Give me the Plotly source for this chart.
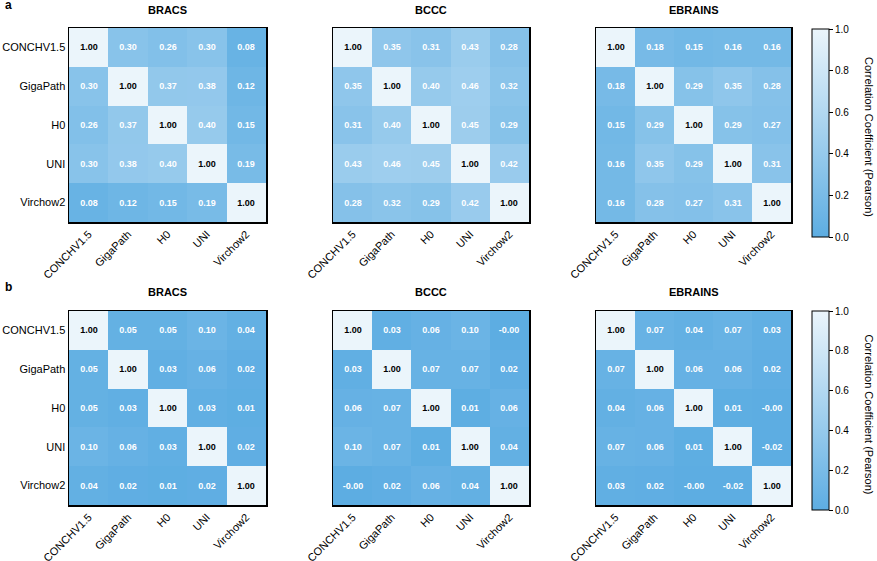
import plotly.graph_objects as go

W, H = 877, 561

models = ["CONCHV1.5", "GigaPath", "H0", "UNI", "Virchow2"]
datasets = ["BRACS", "BCCC", "EBRAINS"]

a_bracs = [[1.00, 0.30, 0.26, 0.30, 0.08],
           [0.30, 1.00, 0.37, 0.38, 0.12],
           [0.26, 0.37, 1.00, 0.40, 0.15],
           [0.30, 0.38, 0.40, 1.00, 0.19],
           [0.08, 0.12, 0.15, 0.19, 1.00]]
a_bccc = [[1.00, 0.35, 0.31, 0.43, 0.28],
          [0.35, 1.00, 0.40, 0.46, 0.32],
          [0.31, 0.40, 1.00, 0.45, 0.29],
          [0.43, 0.46, 0.45, 1.00, 0.42],
          [0.28, 0.32, 0.29, 0.42, 1.00]]
a_ebrains = [[1.00, 0.18, 0.15, 0.16, 0.16],
             [0.18, 1.00, 0.29, 0.35, 0.28],
             [0.15, 0.29, 1.00, 0.29, 0.27],
             [0.16, 0.35, 0.29, 1.00, 0.31],
             [0.16, 0.28, 0.27, 0.31, 1.00]]
b_bracs = [[1.00, 0.05, 0.05, 0.10, 0.04],
           [0.05, 1.00, 0.03, 0.06, 0.02],
           [0.05, 0.03, 1.00, 0.03, 0.01],
           [0.10, 0.06, 0.03, 1.00, 0.02],
           [0.04, 0.02, 0.01, 0.02, 1.00]]
b_bccc = [[1.00, 0.03, 0.06, 0.10, -0.001],
          [0.03, 1.00, 0.07, 0.07, 0.02],
          [0.06, 0.07, 1.00, 0.01, 0.06],
          [0.10, 0.07, 0.01, 1.00, 0.04],
          [-0.001, 0.02, 0.06, 0.04, 1.00]]
b_ebrains = [[1.00, 0.07, 0.04, 0.07, 0.03],
             [0.07, 1.00, 0.06, 0.06, 0.02],
             [0.04, 0.06, 1.00, 0.01, -0.001],
             [0.07, 0.06, 0.01, 1.00, -0.02],
             [0.03, 0.02, -0.001, -0.02, 1.00]]

rows = [[a_bracs, a_bccc, a_ebrains], [b_bracs, b_bccc, b_ebrains]]
row_labels = ["a", "b"]
colorbar_title = "Correlation Coefficient (Pearson)"
cbar_ticks = [0.0, 0.2, 0.4, 0.6, 0.8, 1.0]

FONT = "Liberation Sans, Arial, sans-serif"
cscale = [[0.0, "#5DADE2"], [1.0, "#EBF5FB"]]

def px_x(p):
    return p / W

def px_y(p):
    return 1 - p / H

x_px = [(69, 266), (333, 529), (596, 791)]
y_px = [(28, 222), (311, 505)]
cbar_px = [(29, 237), (311, 510)]
title_y_px = [10, 292]
label_y_px = [5, 287]

fig = go.Figure()
layout = dict(
    width=W, height=H, autosize=False,
    margin=dict(l=0, r=0, t=0, b=0, pad=0, autoexpand=False),
    paper_bgcolor="white", plot_bgcolor="white",
    font=dict(family=FONT, color="black"),
    showlegend=False,
    annotations=[],
)

n = len(models)
k = 0
for r, mats in enumerate(rows):
    cax = "coloraxis" if r == 0 else "coloraxis2"
    ctop, cbot = cbar_px[r]
    layout[cax] = dict(
        colorscale=cscale, cmin=0, cmax=1,
        colorbar=dict(
            x=px_x(812), xanchor="left", xpad=0, ypad=0,
            y=px_y(ctop), yanchor="top",
            len=(cbot - ctop) / H, lenmode="fraction",
            thickness=17, thicknessmode="pixels",
            outlinecolor="black", outlinewidth=1,
            tickmode="array", tickvals=cbar_ticks,
            ticktext=[f"{t:.1f}" for t in cbar_ticks],
            ticks="outside", ticklen=4, tickcolor="black", tickwidth=1,
            tickfont=dict(size=10, family=FONT, color="black"),
        ),
    )
    layout["annotations"].append(dict(
        text=colorbar_title, xref="paper", yref="paper",
        x=px_x(869), y=px_y((ctop + cbot) / 2 + 4), xanchor="center", yanchor="middle",
        textangle=90, showarrow=False,
        font=dict(size=11, family=FONT, color="black"),
    ))
    for c, mat in enumerate(mats):
        k += 1
        xa = "x" if k == 1 else f"x{k}"
        ya = "y" if k == 1 else f"y{k}"
        off_text = [[("" if i == j else f"{mat[i][j]:.2f}") for j in range(n)] for i in range(n)]
        diag_z = [[(mat[i][j] if i == j else None) for j in range(n)] for i in range(n)]
        diag_text = [[(f"{mat[i][j]:.2f}" if i == j else "") for j in range(n)] for i in range(n)]
        fig.add_trace(go.Heatmap(
            z=mat, x=models, y=models, coloraxis=cax,
            text=off_text, texttemplate="%{text}",
            textfont=dict(size=9, color="white", family=FONT, weight="bold"),
            xaxis=xa, yaxis=ya, hoverinfo="skip",
        ))
        fig.add_trace(go.Heatmap(
            z=diag_z, x=models, y=models, coloraxis=cax,
            text=diag_text, texttemplate="%{text}",
            textfont=dict(size=9, color="black", family=FONT, weight="bold"),
            xaxis=xa, yaxis=ya, hoverinfo="skip",
        ))
        x0, x1 = x_px[c]
        y0, y1 = y_px[r]
        xkey = "xaxis" if k == 1 else f"xaxis{k}"
        ykey = "yaxis" if k == 1 else f"yaxis{k}"
        layout[xkey] = dict(
            domain=[px_x(x0), px_x(x1)], anchor=ya,
            showline=True, linecolor="black", linewidth=1.5, mirror=True,
            showgrid=False, zeroline=False, ticks="", ticklen=0,
            tickangle=-45, tickfont=dict(size=11, family=FONT, color="black"),
            categoryorder="array", categoryarray=models,
        )
        layout[ykey] = dict(
            domain=[px_y(y1), px_y(y0)], anchor=xa,
            showline=True, linecolor="black", linewidth=1.5, mirror=True,
            showgrid=False, zeroline=False, ticks="", ticklen=0,
            autorange="reversed", showticklabels=(c == 0),
            tickfont=dict(size=11, family=FONT, color="black"),
            categoryorder="array", categoryarray=models,
        )
        layout["annotations"].append(dict(
            text=f"<b>{datasets[c]}</b>", xref="paper", yref="paper",
            x=px_x((x0 + x1) / 2), y=px_y(title_y_px[r]),
            xanchor="center", yanchor="middle", showarrow=False,
            font=dict(size=11, family=FONT, color="black"),
        ))
    layout["annotations"].append(dict(
        text=f"<b>{row_labels[r]}</b>", xref="paper", yref="paper",
        x=px_x(3), y=px_y(label_y_px[r]), xanchor="left", yanchor="middle",
        showarrow=False, font=dict(size=12, family=FONT, color="black"),
    ))

fig.update_layout(**layout)
fig.write_html(
    "out.html",
    config={"displayModeBar": False, "staticPlot": True},
    post_script="document.body.style.margin='0';document.body.style.overflow='hidden';",
)
